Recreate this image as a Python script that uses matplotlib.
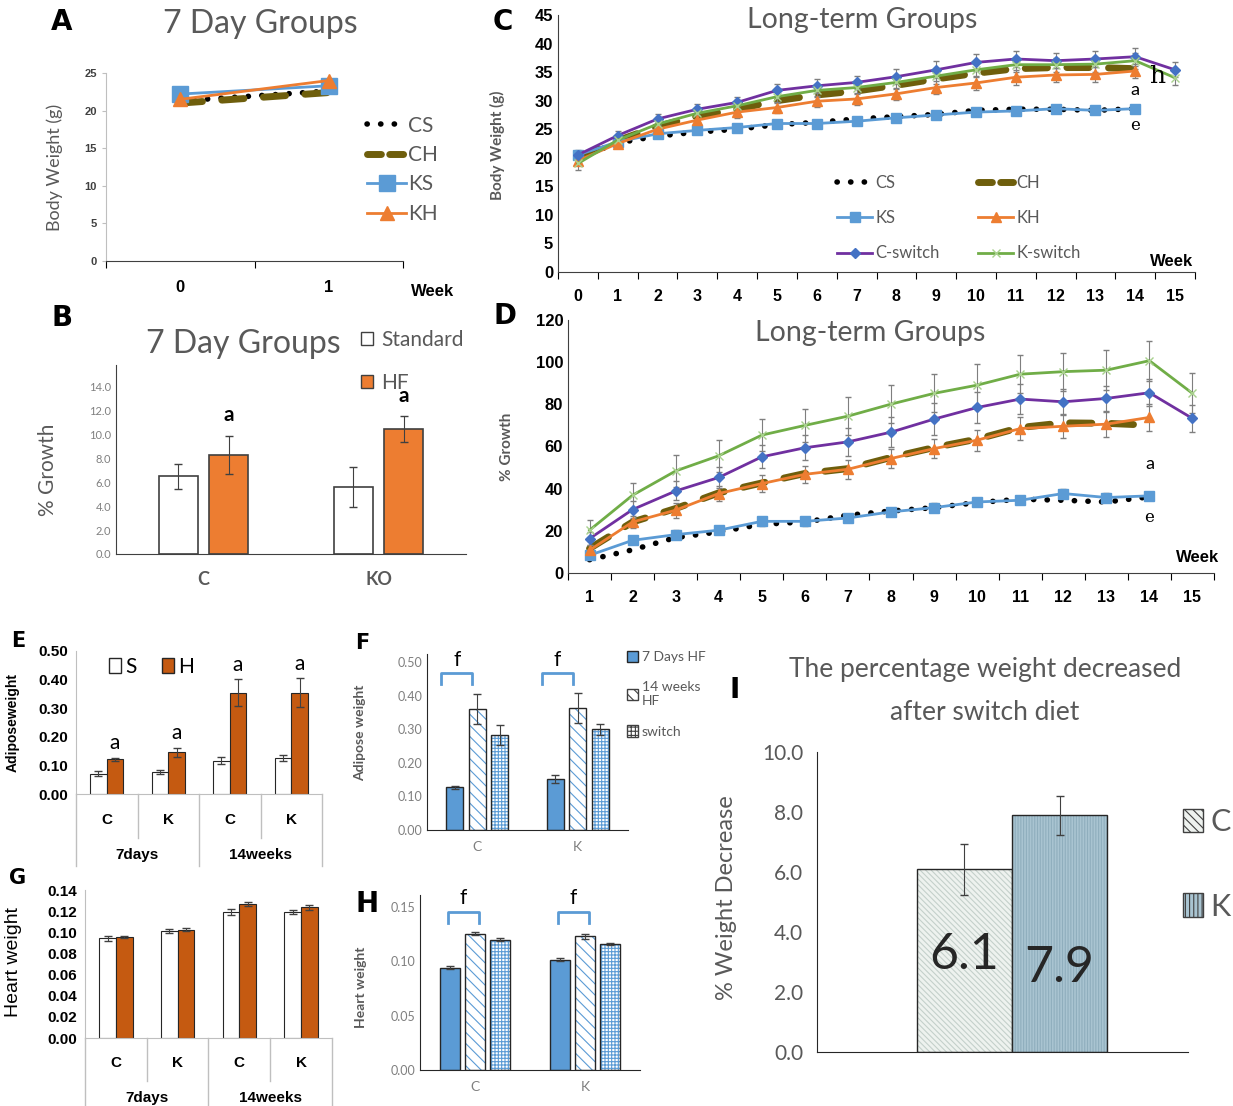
import numpy as np
import matplotlib
matplotlib.use('Agg')
import matplotlib.pyplot as plt
from matplotlib.lines import Line2D
from matplotlib.patches import Patch

W, H = 1233, 1106

# ---- data ----
# A: 7 day body weight
a_weeks = [0, 1]
a_cs = [21.3, 22.6]
a_ch = [21.0, 22.4]
a_ks = [22.2, 23.3]
a_kh = [21.5, 24.0]

# B: 7 day % growth
b_groups = ['C', 'KO']
b_std = [6.5, 5.6]
b_std_err = [1.05, 1.7]
b_hf = [8.3, 10.45]
b_hf_err = [1.6, 1.1]

# C: long-term body weight (weeks 0-15)
c_weeks = list(range(16))
c_cs = [20.0, 22.6, 23.8, 24.5, 25.0, 25.8, 26.2, 26.8, 27.2, 27.6, 28.3, 28.5, 28.5, 28.3, 28.6]
c_ch = [20.0, 23.0, 25.5, 27.3, 28.5, 30.0, 31.0, 31.7, 32.7, 33.8, 34.8, 35.6, 35.8, 35.8, 35.6]
c_ks = [20.5, 22.8, 24.2, 24.8, 25.3, 26.0, 26.0, 26.4, 27.0, 27.5, 28.0, 28.2, 28.6, 28.3, 28.6]
c_kh = [19.5, 22.5, 25.0, 26.6, 28.0, 28.8, 29.9, 30.3, 31.2, 32.3, 33.1, 34.1, 34.5, 34.6, 35.2]
c_csw = [20.5, 23.9, 26.8, 28.5, 29.7, 31.8, 32.6, 33.2, 34.2, 35.4, 36.7, 37.3, 37.0, 37.3, 37.7, 35.4]
c_ksw = [19.0, 23.1, 25.9, 27.8, 29.1, 30.7, 31.8, 32.3, 33.2, 34.3, 35.4, 36.3, 36.3, 36.4, 37.0, 34.0]
c_kh_err = [0.8, 0.7, 0.8, 0.9, 1.0, 1.0, 1.0, 1.1, 1.1, 1.1, 1.2, 1.3, 1.3, 1.3, 1.3]
c_csw_err = [0.8, 0.8, 0.9, 1.0, 1.0, 1.1, 1.2, 1.2, 1.3, 1.5, 1.5, 1.4, 1.3, 1.4, 1.6, 1.3]
c_ksw_err = [1.2, 0.8, 0.9, 1.0, 1.0, 1.1, 1.1, 1.2, 1.2, 1.3, 1.3, 1.3, 1.2, 1.3, 1.4, 1.2]

# D: long-term % growth (weeks 1-15)
d_weeks = list(range(1, 16))
d_cs = [6.3, 11.0, 16.8, 19.5, 23.1, 24.2, 27.4, 29.4, 31.0, 33.4, 35.0, 34.5, 33.7, 36.1]
d_ch = [11.6, 24.2, 30.6, 38.0, 42.7, 47.2, 49.5, 54.8, 59.5, 63.5, 69.0, 71.2, 71.0, 70.1]
d_ks = [8.4, 15.5, 18.2, 20.3, 24.5, 24.5, 26.1, 29.0, 31.0, 33.7, 34.5, 37.7, 35.8, 36.6]
d_kh = [10.8, 24.2, 29.8, 37.7, 42.4, 46.8, 49.2, 54.3, 59.0, 63.0, 68.5, 69.6, 70.6, 73.8]
d_csw = [16.3, 30.1, 38.9, 45.3, 55.1, 59.4, 62.2, 66.8, 73.0, 78.5, 82.5, 81.2, 82.8, 85.5, 73.3]
d_ksw = [20.3, 36.9, 48.4, 55.6, 65.4, 70.0, 74.4, 80.1, 85.2, 89.1, 94.3, 95.5, 96.2, 100.7, 85.2]
d_ks_err = [1.5, 1.5, 2.0, 2.0, 2.0, 2.0, 2.0, 2.0, 2.0, 2.0, 2.0, 2.0, 2.0, 2.0]
d_kh_err = [2.5, 3.0, 3.5, 3.5, 4.0, 4.0, 4.5, 4.5, 4.5, 5.0, 5.5, 5.5, 6.0, 6.5]
d_csw_err = [3.0, 4.0, 4.5, 5.0, 5.5, 6.0, 6.5, 7.0, 7.5, 7.5, 7.0, 6.0, 6.0, 6.5, 6.5]
d_ksw_err = [5.0, 6.0, 7.5, 7.5, 7.5, 8.0, 9.0, 9.0, 9.0, 10.0, 9.0, 9.0, 9.5, 9.5, 9.5]

# E: adipose weight
e_cats = ['C', 'K', 'C', 'K']
e_groups = ['7days', '14weeks']
e_s = [0.071, 0.077, 0.117, 0.125]
e_s_err = [0.008, 0.007, 0.012, 0.010]
e_h = [0.122, 0.146, 0.354, 0.354]
e_h_err = [0.005, 0.016, 0.047, 0.050]

# F: adipose weight by diet
f_cats = ['C', 'K']
f_7d = [0.127, 0.152]
f_7d_err = [0.005, 0.013]
f_14w = [0.360, 0.364]
f_14w_err = [0.045, 0.045]
f_sw = [0.284, 0.300]
f_sw_err = [0.030, 0.017]

# G: heart weight
g_cats = ['C', 'K', 'C', 'K']
g_groups = ['7days', '14weeks']
g_s = [0.0944, 0.1015, 0.1195, 0.1195]
g_s_err = [0.0025, 0.0020, 0.0030, 0.0020]
g_h = [0.0952, 0.1025, 0.1268, 0.1235]
g_h_err = [0.0010, 0.0015, 0.0015, 0.0025]

# H: heart weight by diet
h_cats = ['C', 'K']
h_7d = [0.0943, 0.1016]
h_7d_err = [0.0010, 0.0015]
h_14w = [0.1255, 0.1230]
h_14w_err = [0.0015, 0.0025]
h_sw = [0.1200, 0.1157]
h_sw_err = [0.0015, 0.0010]

# I: % weight decrease after switch
i_groups = ['C', 'K']
i_vals = [6.1, 7.9]
i_err = [0.85, 0.65]

# ---- styles ----
GRAY = '#595959'
LGRAY = '#BFBFBF'
ORANGE = '#ED7D31'
DORANGE = '#C55A11'
BLUE = '#5B9BD5'
DBLUE = '#4472C4'
PURPLE = '#7030A0'
GREEN = '#70AD47'
LGREEN = '#A9D18E'
OLIVE = '#6E5E0C'
CAL = ['Lato', 'DejaVu Sans']
NARROW = ['Liberation Sans Narrow', 'Liberation Sans', 'DejaVu Sans']
DOTS = (0, (0.05, 2.4))
DASHES = (0, (3.2, 2.8))

plt.rcParams['font.family'] = CAL
plt.rcParams['hatch.linewidth'] = 0.8

fig = plt.figure(figsize=(W / 100, H / 100), dpi=100)


def add_ax(left, top, right, bottom):
    return fig.add_axes([left / W, 1 - bottom / H, (right - left) / W, (bottom - top) / H])


def fig_text(x, y, s, **kw):
    fig.text(x / W, 1 - y / H, s, **kw)


def px_axes(ax, x, y):
    p = fig.transFigure.transform((x / W, 1 - y / H))
    return ax.transAxes.inverted().transform(p)


def style_spines(ax, color='#404040'):
    ax.spines['top'].set_visible(False)
    ax.spines['right'].set_visible(False)
    ax.spines['left'].set_color(color)
    ax.spines['bottom'].set_color(color)


def bold_yticks(ax, size):
    for t in ax.get_yticklabels():
        t.set_fontweight('bold')
        t.set_fontfamily(NARROW)
        t.set_fontsize(size)


def category_ticks(ax, centers, labels, bounds, **kw):
    ax.set_xticks(bounds)
    ax.set_xticklabels([])
    ax.set_xticks(centers, minor=True)
    ax.set_xticklabels(labels, minor=True, **kw)
    ax.tick_params(axis='x', which='minor', length=0)
    ax.tick_params(axis='x', which='major', length=5, direction='out')


def dotted(ax, x, y, **kw):
    ax.plot(x, y, color='black', lw=4, ls=DOTS, dash_capstyle='round', **kw)


def dashed(ax, x, y, **kw):
    ax.plot(x, y, color=OLIVE, lw=5, ls=DASHES, dash_capstyle='round', **kw)


def hatched_bar(ax, x, h, w, face, hatch_color, hatch, yerr=None):
    ax.bar(x, h, w, color=face, edgecolor=hatch_color, hatch=hatch, lw=0)
    ax.bar(x, h, w, fill=False, edgecolor='#262626', lw=1.0, yerr=yerr,
           error_kw=dict(ecolor='#404040', elinewidth=0.8, capsize=3))


# ================= A =================
ax = add_ax(106, 73, 403, 261)
style_spines(ax)
ax.spines['left'].set_color(LGRAY)
dotted(ax, a_weeks, a_cs)
dashed(ax, a_weeks, a_ch)
ax.plot(a_weeks, a_ks, color=BLUE, lw=2, marker='s', ms=11)
ax.plot(a_weeks, a_kh, color=ORANGE, lw=2, marker='^', ms=10)
ax.set_ylim(0, 25)
ax.set_xlim(-0.5, 1.5)
ax.set_yticks(range(0, 26, 5))
ax.tick_params(axis='y', labelcolor='#404040', length=3, color=LGRAY)
bold_yticks(ax, 8)
category_ticks(ax, a_weeks, ['0', '1'], [-0.5, 0.5, 1.5], fontsize=12, fontweight='bold',
               family=NARROW)
ax.tick_params(axis='x', which='minor', pad=14)
ax.set_ylabel('Body Weight (g)', fontsize=13, color=GRAY)
ax.yaxis.set_label_coords(*px_axes(ax, 63, 167))
handles = [Line2D([], [], color='black', lw=4, ls=DOTS, dash_capstyle='round'),
           Line2D([], [], color=OLIVE, lw=5, ls=(0, (2.0, 1.2)), dash_capstyle='round'),
           Line2D([], [], color=BLUE, lw=2, marker='s', ms=11),
           Line2D([], [], color=ORANGE, lw=2, marker='^', ms=10)]
ax.legend(handles, ['CS', 'CH', 'KS', 'KH'], loc='upper left',
          bbox_to_anchor=(348 / W, 1 - 97 / H), bbox_transform=fig.transFigure,
          frameon=False, fontsize=15, labelcolor=GRAY, handlelength=1.9,
          labelspacing=0.45, handletextpad=0.1)
fig_text(260, 24, '7 Day Groups', fontsize=23, color=GRAY, ha='center', va='center')
fig_text(433, 291, 'Week', fontsize=12, fontweight='bold', ha='center', va='center', family=NARROW)
fig_text(62, 22, 'A', fontsize=20, fontweight='bold', ha='center', va='center', family=['DejaVu Sans'])

# ================= B =================
ax = add_ax(116, 365, 466, 554)
style_spines(ax)
xb = np.arange(len(b_groups))
err_kw = dict(ecolor='#404040', elinewidth=0.8, capsize=3)
ax.bar(xb - 0.145, b_std, 0.222, color='white', edgecolor='#404040', lw=1.2, yerr=b_std_err, error_kw=err_kw)
ax.bar(xb + 0.145, b_hf, 0.222, color=ORANGE, edgecolor='#404040', lw=1.2, yerr=b_hf_err, error_kw=err_kw)
for i in range(len(b_groups)):
    ax.text(xb[i] + 0.145, b_hf[i] + b_hf_err[i] + 1.7, 'a', ha='center', va='center',
            fontsize=15, fontweight='bold')
ax.set_xlim(-0.5, 1.5)
ax.set_ylim(0, 15.8)
ax.set_yticks(np.arange(0, 15, 2))
ax.set_yticklabels(['%.1f' % v for v in np.arange(0, 15, 2)])
ax.tick_params(axis='y', labelsize=8, labelcolor='#808080', length=0)
ax.set_xticks(xb)
ax.set_xticklabels(b_groups, fontsize=13, fontweight='bold', color=GRAY)
ax.tick_params(axis='x', length=0, pad=12)
ax.set_ylabel('% Growth', fontsize=15, color=GRAY)
ax.yaxis.set_label_coords(*px_axes(ax, 58, 470))
handles = [Patch(facecolor='white', edgecolor='#404040'), Patch(facecolor=ORANGE, edgecolor='#404040')]
ax.legend(handles, ['Standard', 'HF'], loc='upper left',
          bbox_to_anchor=(342 / W, 1 - 311 / H), bbox_transform=fig.transFigure,
          frameon=False, fontsize=15, labelcolor=GRAY, handlelength=0.6, handleheight=0.6,
          labelspacing=1.1, handletextpad=0.4)
fig_text(243, 344, '7 Day Groups', fontsize=23, color=GRAY, ha='center', va='center')
fig_text(62, 318, 'B', fontsize=20, fontweight='bold', ha='center', va='center', family=['DejaVu Sans'])

# ================= C =================
ax = add_ax(558, 15, 1195, 272)
style_spines(ax)
err = dict(elinewidth=0.8, capsize=2, ecolor='#7f7f7f')
dotted(ax, c_weeks[:15], c_cs)
dashed(ax, c_weeks[:15], c_ch)
ax.errorbar(c_weeks[:15], c_ks, color=BLUE, lw=2, marker='s', ms=7, **err)
ax.errorbar(c_weeks[:15], c_kh, yerr=c_kh_err, color=ORANGE, lw=2, marker='^', ms=7, **err)
ax.errorbar(c_weeks, c_csw, yerr=c_csw_err, color=PURPLE, lw=2, marker='D', ms=5,
            mfc=DBLUE, mec=DBLUE, **err)
ax.errorbar(c_weeks, c_ksw, yerr=c_ksw_err, color=GREEN, lw=2, marker='x', ms=6,
            mec=LGREEN, **err)
ax.set_xlim(-0.5, 15.5)
ax.set_ylim(0, 45)
ax.set_yticks(range(0, 46, 5))
ax.tick_params(axis='y', length=0)
bold_yticks(ax, 12)
category_ticks(ax, c_weeks, [str(w) for w in c_weeks], np.arange(-0.5, 16, 1),
               fontsize=11.5, fontweight='bold', family=NARROW)
ax.tick_params(axis='x', which='minor', pad=12)
ax.set_ylabel('Body Weight (g)', fontsize=11, color=GRAY, fontweight='bold')
ax.yaxis.set_label_coords(*px_axes(ax, 505, 145))
handles = [Line2D([], [], color='black', lw=4, ls=DOTS, dash_capstyle='round'),
           Line2D([], [], color=BLUE, lw=2, marker='s', ms=7),
           Line2D([], [], color=PURPLE, lw=2, marker='D', ms=5, mfc=DBLUE, mec=DBLUE),
           Line2D([], [], color=OLIVE, lw=5, ls=(0, (2.0, 1.2)), dash_capstyle='round'),
           Line2D([], [], color=ORANGE, lw=2, marker='^', ms=7),
           Line2D([], [], color=GREEN, lw=2, marker='x', ms=6, mec=LGREEN)]
ax.legend(handles, ['CS', 'KS', 'C-switch', 'CH', 'KH', 'K-switch'], ncol=2, loc='upper left',
          bbox_to_anchor=(822 / W, 1 - 160 / H), bbox_transform=fig.transFigure,
          frameon=False, fontsize=12, labelcolor=GRAY, handlelength=2.1,
          labelspacing=1.15, handletextpad=0.2, columnspacing=2.3)
ax.text(14.0, 31.8, 'a', fontsize=13, ha='center', va='center')
ax.text(14.0, 25.7, 'e', fontsize=12, ha='center', va='center', family=['DejaVu Serif'])
ax.text(14.55, 34.3, 'h', fontsize=18, ha='center', va='center', family=['DejaVu Serif'])
fig_text(862, 20, 'Long-term Groups', fontsize=20.5, color=GRAY, ha='center', va='center')
fig_text(1172, 261, 'Week', fontsize=12, fontweight='bold', ha='center', va='center', family=NARROW)
fig_text(503, 22, 'C', fontsize=20, fontweight='bold', ha='center', va='center', family=['DejaVu Sans'])

# ================= D =================
ax = add_ax(568, 320, 1214, 573)
style_spines(ax)
dotted(ax, d_weeks[:14], d_cs)
dashed(ax, d_weeks[:14], d_ch)
ax.errorbar(d_weeks[:14], d_ks, yerr=d_ks_err, color=BLUE, lw=2, marker='s', ms=7, **err)
ax.errorbar(d_weeks[:14], d_kh, yerr=d_kh_err, color=ORANGE, lw=2, marker='^', ms=7, **err)
ax.errorbar(d_weeks, d_csw, yerr=d_csw_err, color=PURPLE, lw=2, marker='D', ms=5,
            mfc=DBLUE, mec=DBLUE, **err)
ax.errorbar(d_weeks, d_ksw, yerr=d_ksw_err, color=GREEN, lw=2, marker='x', ms=6,
            mec=LGREEN, **err)
ax.set_xlim(0.5, 15.5)
ax.set_ylim(0, 120)
ax.set_yticks(range(0, 121, 20))
ax.tick_params(axis='y', length=0)
bold_yticks(ax, 12)
category_ticks(ax, d_weeks, [str(w) for w in d_weeks], np.arange(0.5, 16, 1),
               fontsize=11.5, fontweight='bold', family=NARROW)
ax.tick_params(axis='x', which='minor', pad=12)
ax.set_ylabel('% Growth', fontsize=11, color=GRAY, fontweight='bold')
ax.yaxis.set_label_coords(*px_axes(ax, 514, 447))
ax.text(14.0, 51.5, 'a', fontsize=13, ha='center', va='center')
ax.text(14.0, 26.5, 'e', fontsize=12, ha='center', va='center', family=['DejaVu Serif'])
fig_text(870, 333, 'Long-term Groups', fontsize=20.5, color=GRAY, ha='center', va='center')
fig_text(1198, 558, 'Week', fontsize=12, fontweight='bold', ha='center', va='center', family=NARROW)
fig_text(505, 316, 'D', fontsize=20, fontweight='bold', ha='center', va='center', family=['DejaVu Sans'])


# ================= E / G helpers =================
def two_level(ax, cats, groups, lab_y, grp_y, short_y, long_y):
    trans = ax.get_xaxis_transform()
    ax.set_xticks([])
    for i, c in enumerate(cats):
        ax.text(i, lab_y, c, transform=trans, ha='center', va='center', fontsize=11,
                fontweight='bold', family=NARROW)
    for i, g in enumerate(groups):
        ax.text(2 * i + 0.5, grp_y, g, transform=trans, ha='center', va='center', fontsize=11,
                fontweight='bold', family=NARROW)
    for b in np.arange(-0.5, len(cats), 1):
        low = long_y if b in (-0.5, 1.5, 3.5) else short_y
        ax.plot([b, b], [0, low], transform=trans, clip_on=False, color=LGRAY, lw=1)


# ================= E =================
ax = add_ax(76, 651, 322, 794)
style_spines(ax)
ax.spines['bottom'].set_color(LGRAY)
ax.spines['left'].set_color(LGRAY)
xe = np.arange(len(e_cats))
ax.bar(xe - 0.135, e_s, 0.27, color='white', edgecolor='#262626', lw=0.8, yerr=e_s_err, error_kw=err_kw)
ax.bar(xe + 0.135, e_h, 0.27, color=DORANGE, edgecolor='#262626', lw=0.8, yerr=e_h_err, error_kw=err_kw)
for i in range(len(e_cats)):
    ax.text(xe[i] + 0.135, e_h[i] + e_h_err[i] + 0.05, 'a', ha='center', va='center', fontsize=15)
ax.set_xlim(-0.5, 3.5)
ax.set_ylim(0, 0.5)
ax.set_yticks(np.arange(0, 0.51, 0.1))
ax.set_yticklabels(['%.2f' % v for v in np.arange(0, 0.51, 0.1)], family=NARROW,
                   fontweight='bold', fontsize=11)
ax.tick_params(axis='y', length=0, pad=6)
two_level(ax, e_cats, e_groups, -0.18, -0.43, -0.31, -0.5)
ax.set_ylabel('Adiposeweight', fontsize=10, fontweight='bold', family=NARROW)
ax.yaxis.set_label_coords(*px_axes(ax, 20, 722))
handles = [Patch(facecolor='white', edgecolor='#262626'), Patch(facecolor=DORANGE, edgecolor='#262626')]
ax.legend(handles, ['S', 'H'], ncol=2, loc='upper left',
          bbox_to_anchor=(90 / W, 1 - 638 / H), bbox_transform=fig.transFigure,
          frameon=False, fontsize=15, handlelength=0.6, handleheight=0.8,
          handletextpad=0.2, columnspacing=1.2)
fig_text(18, 641, 'E', fontsize=15, fontweight='bold', ha='center', va='center', family=['DejaVu Sans'])

# ================= G =================
ax = add_ax(85, 890, 332, 1038)
style_spines(ax)
ax.spines['bottom'].set_color(LGRAY)
ax.spines['left'].set_color(LGRAY)
xg = np.arange(len(g_cats))
ax.bar(xg - 0.135, g_s, 0.27, color='white', edgecolor='#262626', lw=0.8, yerr=g_s_err, error_kw=err_kw)
ax.bar(xg + 0.135, g_h, 0.27, color=DORANGE, edgecolor='#262626', lw=0.8, yerr=g_h_err, error_kw=err_kw)
ax.set_xlim(-0.5, 3.5)
ax.set_ylim(0, 0.14)
ax.set_yticks(np.arange(0, 0.141, 0.02))
ax.set_yticklabels(['%.2f' % v for v in np.arange(0, 0.141, 0.02)], family=NARROW,
                   fontweight='bold', fontsize=11)
ax.tick_params(axis='y', length=0, pad=6)
two_level(ax, g_cats, g_groups, -0.17, -0.405, -0.29, -0.6)
ax.set_ylabel('Heart weight', fontsize=14, family=NARROW)
ax.yaxis.set_label_coords(*px_axes(ax, 22, 962))
fig_text(18, 878, 'G', fontsize=15, fontweight='bold', ha='center', va='center', family=['DejaVu Sans'])


# ================= F / H helpers =================
def diet_bars(ax, v7, e7, v14, e14, vsw, esw, w):
    x = np.arange(len(v7))
    ax.bar(x - 0.225, v7, w, color=BLUE, edgecolor='#262626', lw=1.0, yerr=e7,
           error_kw=dict(ecolor='#404040', elinewidth=0.8, capsize=3))
    hatched_bar(ax, x, v14, w, 'white', BLUE, '\\\\\\', yerr=e14)
    hatched_bar(ax, x + 0.225, vsw, w, 'white', BLUE, '+++++', yerr=esw)


def bracket(ax, x0, x1, ytop, ybot, ytext):
    ax.plot([x0, x0, x1, x1], [ybot, ytop, ytop, ybot], color=BLUE, lw=2, clip_on=False)
    ax.text((x0 + x1) / 2, ytext, 'f', ha='center', va='center', fontsize=15)


def light_axes(ax):
    style_spines(ax, '#262626')
    ax.tick_params(axis='y', labelsize=9, labelcolor='#7f7f7f', length=0)
    ax.tick_params(axis='x', labelsize=10, labelcolor='#7f7f7f', length=0, pad=8)


# ================= F =================
ax = add_ax(427, 654, 628, 830)
light_axes(ax)
diet_bars(ax, f_7d, f_7d_err, f_14w, f_14w_err, f_sw, f_sw_err, 0.17)
ax.set_xlim(-0.5, 1.5)
ax.set_ylim(0, 0.525)
ax.set_yticks(np.arange(0, 0.51, 0.1))
ax.set_yticklabels(['%.2f' % v for v in np.arange(0, 0.51, 0.1)])
ax.set_xticks(range(len(f_cats)))
ax.set_xticklabels(f_cats)
for i in range(len(f_cats)):
    bracket(ax, i - 0.36, i - 0.05, 0.469, 0.435, 0.506)
ax.set_ylabel('Adipose weight', fontsize=10, fontweight='bold', color=GRAY)
ax.yaxis.set_label_coords(*px_axes(ax, 366, 733))
handles = [Patch(facecolor=BLUE, edgecolor='#262626'),
           Patch(facecolor='white', edgecolor='#404040', hatch='\\\\\\'),
           Patch(facecolor='white', edgecolor='#404040', hatch='++++')]
ax.legend(handles, ['7 Days HF', '14 weeks\nHF', 'switch'], loc='upper left',
          bbox_to_anchor=(614 / W, 1 - 638 / H), bbox_transform=fig.transFigure,
          frameon=False, fontsize=10, labelcolor=GRAY, handlelength=0.8, handleheight=0.9,
          labelspacing=1.3, handletextpad=0.3)
fig_text(362, 643, 'F', fontsize=15, fontweight='bold', ha='center', va='center', family=['DejaVu Sans'])

# ================= H =================
ax = add_ax(420, 895, 640, 1070)
light_axes(ax)
diet_bars(ax, h_7d, h_7d_err, h_14w, h_14w_err, h_sw, h_sw_err, 0.18)
ax.set_xlim(-0.5, 1.5)
ax.set_ylim(0, 0.161)
ax.set_yticks(np.arange(0, 0.151, 0.05))
ax.set_yticklabels(['%.2f' % v for v in np.arange(0, 0.151, 0.05)])
ax.set_xticks(range(len(h_cats)))
ax.set_xticklabels(h_cats)
for i in range(len(h_cats)):
    bracket(ax, i - 0.245, i + 0.036, 0.1453, 0.135, 0.158)
ax.set_ylabel('Heart weight', fontsize=10, fontweight='bold', color=GRAY)
ax.yaxis.set_label_coords(*px_axes(ax, 367, 987))
fig_text(367, 904, 'H', fontsize=20, fontweight='bold', ha='center', va='center', family=['DejaVu Sans'])

# ================= I =================
ax = add_ax(817, 752, 1188, 1052)
style_spines(ax, '#262626')
xi = np.arange(len(i_groups))
hatched_bar(ax, xi[0], i_vals[0], 1.0, '#EEF2EF', '#C4D0CB', '\\\\\\\\\\\\', yerr=i_err[0])
hatched_bar(ax, xi[1], i_vals[1], 1.0, '#A9C4D1', '#8FAEBD', '||||||', yerr=i_err[1])
ax.text(xi[0], 3.23, '%.1f' % i_vals[0], ha='center', va='center', fontsize=36, color='#262626')
ax.text(xi[1], 2.8, '%.1f' % i_vals[1], ha='center', va='center', fontsize=36, color='#262626')
ax.set_xlim(-1.55, 2.35)
ax.set_ylim(0, 10)
ax.set_xticks([])
ax.set_yticks(np.arange(0, 10.1, 2))
ax.set_yticklabels(['%.1f' % v for v in np.arange(0, 10.1, 2)])
ax.tick_params(axis='y', labelsize=15, labelcolor=GRAY, length=0, pad=10)
ax.set_ylabel('% Weight Decrease', fontsize=17, color=GRAY)
ax.yaxis.set_label_coords(*px_axes(ax, 737, 898))
handles = [Patch(facecolor='#EEF2EF', edgecolor='#404040', hatch='\\\\\\\\'),
           Patch(facecolor='#A9C4D1', edgecolor='#404040', hatch='||||')]
ax.legend(handles, i_groups, loc='upper left',
          bbox_to_anchor=(1183 / W, 1 - 808 / H), bbox_transform=fig.transFigure,
          frameon=False, fontsize=22, labelcolor=GRAY, handlelength=0.65, handleheight=0.8,
          labelspacing=1.85, handletextpad=0.25, borderpad=0, borderaxespad=0)
fig_text(985, 670, 'The percentage weight decreased', fontsize=19, color=GRAY, ha='center', va='center')
fig_text(985, 712, 'after switch diet', fontsize=19, color=GRAY, ha='center', va='center')
fig_text(735, 690, 'I', fontsize=20, fontweight='bold', ha='center', va='center', family=['DejaVu Sans'])

fig.savefig('out.png', dpi=100)
